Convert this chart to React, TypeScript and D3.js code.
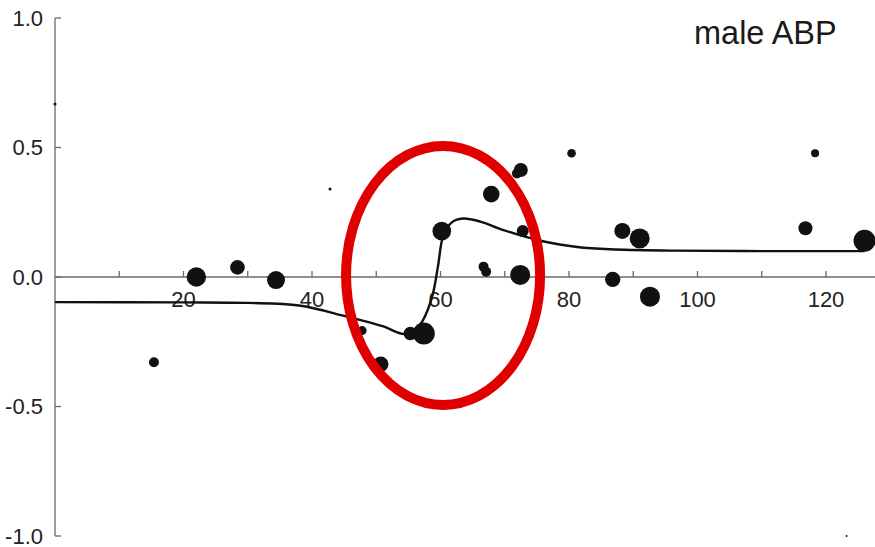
import React from "react";
import * as d3 from "d3";

// ---- data ----
const pointX = [0, 15.4, 22.0, 28.4, 34.4, 42.8, 47.8, 50.7, 55.3, 57.4, 60.2, 66.7, 67.1, 67.9, 71.9, 72.5, 72.8, 72.4, 80.4, 86.8, 88.3, 91.0, 92.6, 116.8, 118.3, 126.0, 123.2];
const pointY = [0.668, -0.329, 0.0, 0.037, -0.012, 0.34, -0.207, -0.337, -0.218, -0.218, 0.177, 0.04, 0.02, 0.32, 0.4, 0.413, 0.178, 0.008, 0.478, -0.009, 0.178, 0.149, -0.076, 0.188, 0.478, 0.14, -1.0];
const pointWeight = [1.5, 5, 9.7, 7.3, 9, 1.5, 4.5, 7.7, 6.7, 11, 9.3, 5, 5, 8.3, 5, 7, 6, 10, 4.3, 7.7, 8, 10, 10, 7, 4, 11, 1];

const curveX = [0, 20, 30, 38, 45, 51, 54.3, 56.0, 57.2, 58.7, 59.6, 60.4, 61.8, 63.5, 66.2, 69.8, 76.1, 81.3, 86.4, 95.8, 110, 126];
const curveY = [-0.097, -0.098, -0.1, -0.11, -0.15, -0.19, -0.22, -0.205, -0.17, -0.076, 0.04, 0.156, 0.212, 0.226, 0.214, 0.181, 0.137, 0.116, 0.107, 0.102, 0.1, 0.1];

const xTicks = [10, 20, 30, 40, 50, 60, 70, 80, 90, 100, 110, 120];
const xTickLabels = [20, 40, 60, 80, 100, 120];
const yTicks = [1.0, 0.5, 0.0, -0.5, -1.0];
const title = "male ABP";

// annotation ellipse (data coords): center x, center y, half-width x, half-height y
const ellipseCenter = [60.4, 0.006];
const ellipseRadii = [15.1, 0.5];

export default function App() {
  const W = 875;
  const H = 547;
  const x = d3.scaleLinear().domain([0, 120]).range([55, 826]);
  const y = d3.scaleLinear().domain([-1, 1]).range([536, 18]);
  const r = d3.scaleLinear().domain([0, 11]).range([0, 11]);

  const line = d3
    .line<number>()
    .x((_, i) => x(curveX[i]))
    .y((d) => y(d))
    .curve(d3.curveCatmullRom.alpha(0.5));

  const axisColor = "#6a6a6a";
  const font = "'Liberation Sans', Arial, sans-serif";
  const xEnd = W;

  return (
    <svg
      width={W}
      height={H}
      style={{ position: "absolute", left: 0, top: 0, display: "block", background: "#fff" }}
    >
      {/* y axis */}
      <line x1={x(0)} x2={x(0)} y1={y(1)} y2={y(-1)} stroke={axisColor} strokeWidth={1.3} />
      {yTicks.map((t) => (
        <g key={"yt" + t}>
          <line x1={x(0)} x2={x(0) + 6} y1={y(t)} y2={y(t)} stroke={axisColor} strokeWidth={1.3} />
          <text
            x={43}
            y={y(t)}
            dy="0.36em"
            textAnchor="end"
            fontFamily={font}
            fontSize={22}
            fill="#222"
          >
            {t.toFixed(1)}
          </text>
        </g>
      ))}

      {/* x axis at y=0 */}
      <line x1={x(0)} x2={xEnd} y1={y(0)} y2={y(0)} stroke={axisColor} strokeWidth={1.3} />
      {xTicks.map((t) => (
        <line key={"xt" + t} x1={x(t)} x2={x(t)} y1={y(0)} y2={y(0) - 6} stroke={axisColor} strokeWidth={1.3} />
      ))}
      {xTickLabels.map((t) => (
        <text
          key={"xl" + t}
          x={x(t)}
          y={y(0) + 30}
          textAnchor="middle"
          fontFamily={font}
          fontSize={22}
          fill="#222"
        >
          {t}
        </text>
      ))}

      {/* fitted curve */}
      <path d={line(curveY) || ""} fill="none" stroke="#111" strokeWidth={2.4} />

      {/* points */}
      {pointX.map((px, i) => (
        <circle key={"p" + i} cx={x(px)} cy={y(pointY[i])} r={r(pointWeight[i])} fill="#111" />
      ))}

      {/* red annotation ellipse */}
      <ellipse
        cx={x(ellipseCenter[0])}
        cy={y(ellipseCenter[1])}
        rx={x(ellipseCenter[0] + ellipseRadii[0]) - x(ellipseCenter[0])}
        ry={y(ellipseCenter[1]) - y(ellipseCenter[1] + ellipseRadii[1])}
        fill="none"
        stroke="#e00000"
        strokeWidth={10}
      />

      {/* title */}
      <text x={694} y={44} fontFamily={font} fontSize={32.5} fill="#1a1a1a">
        {title}
      </text>
    </svg>
  );
}
